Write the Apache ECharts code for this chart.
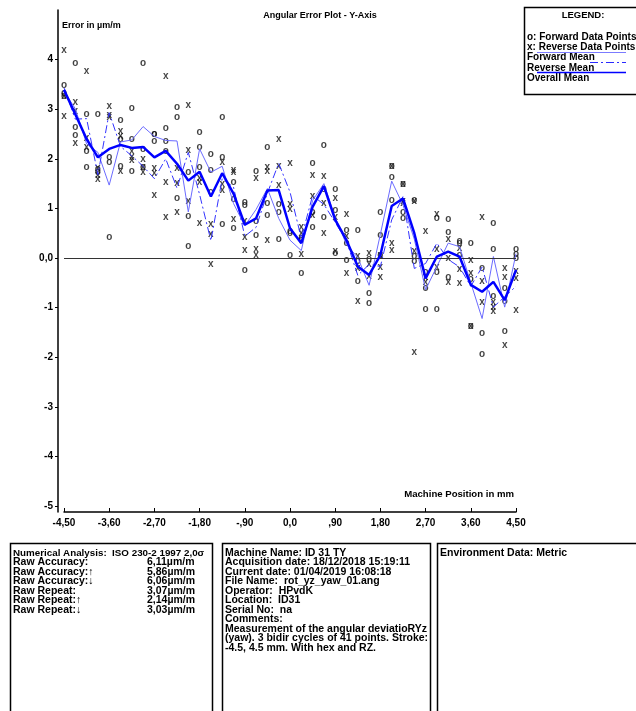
<!DOCTYPE html>
<html>
<head>
<meta charset="utf-8">
<script src="https://cdn.jsdelivr.net/npm/echarts@6/dist/echarts.min.js"></script>
<style>
html, body { margin: 0; padding: 0; background: #fff; }
#chart { width: 636px; height: 711px; }
</style>
</head>
<body>
<div id="chart"></div>
<script>
// machine positions, 41 points
var positions = [-4.5, -4.275, -4.05, -3.825, -3.6, -3.375, -3.15, -2.925, -2.7, -2.475, -2.25, -2.025, -1.8, -1.575, -1.35, -1.125, -0.9, -0.675, -0.45, -0.225, 0, 0.225, 0.45, 0.675, 0.9, 1.125, 1.35, 1.575, 1.8, 2.025, 2.25, 2.475, 2.7, 2.925, 3.15, 3.375, 3.6, 3.825, 4.05, 4.275, 4.5];

// forward runs (o)
var fwdA = [3.48, 3.92, 2.89, 2.89, 2.04, 2.78, 3.01, 3.92, 2.5, 2.61, 3.04, 1.72, 2.53, 2.09, 2.84, 1.52, 1.13, 1.74, 2.23, 1.08, 0.53, 0.4, 1.92, 2.28, 1.39, 0.55, 0.56, -0.03, 0.93, 1.86, 1.49, 1.17, -0.28, 0.8, 0.78, 0.33, 0.3, -0.21, 0.7, -0.61, 0.18];
var fwdB = [3.32, 2.63, 2.16, 1.78, 1.94, 2.4, 2.4, 2.2, 2.5, 2.35, 2.84, 0.85, 2.24, 1.77, 2.03, 1.18, 1.07, 0.75, 1.11, 0.93, 0.5, 0.35, 0.93, 1.39, 0.97, 0.3, -0.07, -0.71, 0.46, 1.63, 0.93, 0.03, -0.6, -0.28, 0.51, 0.3, -0.43, -1.52, 0.18, -0.88, 0.08];
var fwdC = [3.27, 2.47, 1.84, 1.72, 0.42, 1.85, 1.74, 1.83, 2.36, 2.16, 1.2, 0.23, 1.84, 1.32, 0.69, 0.6, -0.24, 0.46, 0.87, 0.38, 0.06, -0.31, 0.62, 0.83, 0.1, -0.05, -0.46, -0.91, 0.06, 1.17, 0.8, -0.07, -1.03, -1.03, -0.38, 0.06, -1.38, -1.94, -0.78, -1.47, 0.0];

// reverse runs (x)
var revA = [4.18, 3.15, 3.77, 1.8, 3.06, 2.55, 2.16, 1.99, 1.81, 3.67, 1.81, 3.07, 1.6, 0.69, 1.94, 1.77, 0.75, 1.61, 1.84, 2.4, 1.91, 0.62, 1.67, 1.64, 1.2, 0.89, 0.03, 0.09, 0.06, 1.86, 1.49, 1.14, 0.53, 0.89, 0.38, 0.2, -0.04, 0.82, -0.9, -0.21, -0.26];
var revB = [3.27, 2.95, 2.41, 1.66, 2.88, 2.45, 2.04, 1.83, 1.71, 1.52, 1.5, 2.18, 1.52, 0.48, 1.49, 1.72, 0.42, 0.18, 1.74, 1.86, 1.09, 0.5, 1.25, 1.11, 0.83, 0.43, -0.21, -0.12, -0.18, 0.3, 1.14, 0.13, -0.38, 0.18, 0.0, -0.23, -0.3, -0.46, -1.0, -0.38, -0.4];
var revC = [2.85, 2.31, 2.24, 1.58, 2.84, 1.74, 1.97, 1.72, 1.27, 0.82, 0.93, 1.14, 0.71, -0.13, 1.36, 0.79, 0.16, 0.06, 0.36, 1.47, 0.98, 0.08, 0.87, 0.5, 0.13, -0.31, -0.87, -0.36, -0.38, 0.16, 1.1, -1.89, -0.48, -0.18, -0.48, -0.5, -1.38, -0.9, -1.08, -1.75, -1.05];

// mean curves as drawn
var fwdMean = [3.36, 3.01, 2.3, 2.13, 1.47, 2.34, 2.38, 2.65, 2.45, 2.37, 2.36, 0.93, 2.2, 1.73, 1.85, 1.1, 0.65, 0.98, 1.4, 0.8, 0.36, 0.15, 1.16, 1.5, 0.82, 0.27, 0.01, -0.55, 0.48, 1.55, 1.07, 0.38, -0.64, -0.17, 0.3, 0.23, -0.5, -1.22, 0.03, -0.99, 0.09];
var revMean = [3.43, 2.8, 2.81, 1.68, 2.93, 2.25, 2.06, 1.85, 1.6, 2.0, 1.41, 2.13, 1.28, 0.35, 1.6, 1.43, 0.44, 0.62, 1.31, 1.91, 1.33, 0.4, 1.26, 1.08, 0.72, 0.34, -0.35, -0.13, -0.17, 0.77, 1.24, -0.21, -0.11, 0.3, -0.03, -0.18, -0.57, -0.18, -0.99, -0.78, -0.57];
var allMean = [3.39, 2.9, 2.4, 2.03, 2.2, 2.28, 2.22, 2.24, 2.03, 2.16, 1.9, 1.56, 1.74, 1.24, 1.71, 1.3, 0.67, 0.8, 1.36, 1.37, 0.6, 0.3, 1.03, 1.45, 0.77, 0.36, -0.17, -0.34, 0.06, 1.05, 1.2, 0.5, -0.41, 0.03, 0.13, 0.03, -0.54, -0.68, -0.48, -0.85, -0.24];

var xTicks = [-4.5, -3.6, -2.7, -1.8, -0.9, 0, 0.9, 1.8, 2.7, 3.6, 4.5];
var yTicks = [-5, -4, -3, -2, -1, 0, 1, 2, 3, 4];

var FONT = '"Liberation Sans", Arial, sans-serif';

function pairs(ys) {
  var out = [];
  for (var i = 0; i < positions.length; i++) {
    out.push([positions[i], ys[i]]);
  }
  return out;
}

function fmtX(v) {
  if (Math.abs(v) < 1e-9) return '0,0';
  var s = Math.abs(v).toFixed(2).replace('.', ',');
  if (s.charAt(0) === '0') s = s.slice(1);
  return (v < 0 ? '-' : '') + s;
}

function fmtY(v) {
  if (Math.abs(v) < 1e-9) return '0,0';
  return String(v);
}

function glyphSeries(ys, ch) {
  return {
    type: 'scatter',
    data: pairs(ys),
    symbol: 'circle',
    symbolSize: 1,
    silent: true,
    itemStyle: { color: 'rgba(0,0,0,0)' },
    label: {
      show: true,
      position: 'inside',
      formatter: ch,
      color: '#111',
      fontSize: 10,
      fontWeight: 'bold',
      fontFamily: FONT
    },
    z: 3
  };
}

function txt(str, x, y, align, size) {
  return {
    type: 'text',
    silent: true,
    style: {
      text: str, x: x, y: y,
      fill: '#000',
      font: 'bold ' + (size || 10.5) + 'px ' + FONT,
      textAlign: align || 'left',
      textVerticalAlign: 'middle',
      align: align || 'left',
      verticalAlign: 'middle'
    }
  };
}

function box(x, y, w, h) {
  return {
    type: 'rect', silent: true,
    shape: { x: x, y: y, width: w, height: h },
    style: { fill: 'none', stroke: '#000', lineWidth: 1.5 }
  };
}

function seg(x1, y1, x2, y2, color, width, dash) {
  return {
    type: 'line', silent: true,
    shape: { x1: x1, y1: y1, x2: x2, y2: y2 },
    style: { stroke: color, lineWidth: width, lineDash: dash || null }
  };
}

var graphics = [
  txt('Angular Error Plot - Y-Axis', 320, 16, 'center', 9),
  txt('Error in µm/m', 62, 26, 'left', 9),
  txt('Machine Position in mm', 514, 494, 'right', 9.6),

  // legend
  box(524.5, 7.5, 120, 87),
  txt('LEGEND:', 583, 15, 'center', 9.5),
  txt('o: Forward Data Points', 527, 37, 'left', 10),
  txt('x: Reverse Data Points', 527, 47, 'left', 10),
  txt('Forward Mean', 527, 57.5, 'left', 10),
  txt('Reverse Mean', 527, 68, 'left', 10),
  txt('Overall Mean', 527, 78, 'left', 10),
  seg(537, 52.5, 626, 52.5, '#7b7bff', 1),
  seg(590, 62.5, 626, 62.5, '#2a2aff', 1, [8, 3, 2, 3]),
  seg(537, 72.5, 626, 72.5, '#0000ff', 1.5),

  // bottom panels
  box(10.5, 543.5, 202, 200),
  box(222.5, 543.5, 208, 200),
  box(437.5, 543.5, 210, 200),

  txt('Numerical Analysis:  ISO 230-2 1997 2,0σ', 13, 553, 'left', 9.8),
  txt('Raw Accuracy:', 13, 562.5), txt('6,11µm/m', 147, 562.5),
  txt('Raw Accuracy:↑', 13, 572), txt('5,86µm/m', 147, 572),
  txt('Raw Accuracy:↓', 13, 581.5), txt('6,06µm/m', 147, 581.5),
  txt('Raw Repeat:', 13, 591), txt('3,07µm/m', 147, 591),
  txt('Raw Repeat:↑', 13, 600.5), txt('2,14µm/m', 147, 600.5),
  txt('Raw Repeat:↓', 13, 610), txt('3,03µm/m', 147, 610),

  txt('Machine Name: ID 31 TY', 225, 553),
  txt('Acquisition date: 18/12/2018 15:19:11', 225, 562.5),
  txt('Current date: 01/04/2019 16:08:18', 225, 572),
  txt('File Name:  rot_yz_yaw_01.ang', 225, 581.5),
  txt('Operator:  HPvdK', 225, 591),
  txt('Location:  ID31', 225, 600.5),
  txt('Serial No:  na', 225, 610),
  txt('Comments:', 225, 619.5),
  txt('Measurement of the angular deviatioRYz', 225, 629),
  txt('(yaw). 3 bidir cycles of 41 points. Stroke:', 225, 638.5),
  txt('-4.5, 4.5 mm. With hex and RZ.', 225, 648),

  txt('Environment Data: Metric', 440, 553)
];

var chart = echarts.init(document.getElementById('chart'), null, { renderer: 'canvas' });

chart.setOption({
  animation: false,
  backgroundColor: '#fff',
  grid: { left: 64, right: 120, top: 10, bottom: 199 },
  xAxis: {
    type: 'value',
    min: -4.5,
    max: 4.5,
    axisLine: { show: true, onZero: false, lineStyle: { color: '#000', width: 1.5 } },
    axisTick: { show: true, inside: true, length: 4, customValues: xTicks, lineStyle: { color: '#000' } },
    axisLabel: {
      customValues: xTicks, formatter: fmtX, margin: 6,
      color: '#000', fontSize: 10, fontWeight: 'bold', fontFamily: FONT
    },
    splitLine: { show: false }
  },
  yAxis: {
    type: 'value',
    min: -5.12,
    max: 5.0,
    offset: 6,
    axisLine: { show: true, onZero: false, lineStyle: { color: '#000', width: 1.5 } },
    axisTick: { show: true, length: 3, customValues: yTicks, lineStyle: { color: '#000' } },
    axisLabel: {
      customValues: yTicks, formatter: fmtY, margin: 5,
      color: '#000', fontSize: 10, fontWeight: 'bold', fontFamily: FONT
    },
    splitLine: { show: false }
  },
  series: [
    {
      name: 'Forward Mean',
      type: 'line',
      data: pairs(fwdMean),
      showSymbol: false,
      silent: true,
      lineStyle: { color: '#6b6bff', width: 1 },
      z: 4
    },
    {
      name: 'Reverse Mean',
      type: 'line',
      data: pairs(revMean),
      showSymbol: false,
      silent: true,
      lineStyle: { color: '#3434ff', width: 1, type: [8, 3, 2, 3] },
      z: 4
    },
    {
      name: 'Overall Mean',
      type: 'line',
      data: pairs(allMean),
      showSymbol: false,
      silent: true,
      lineStyle: { color: '#0000ff', width: 2.5 },
      markLine: {
        silent: true,
        symbol: 'none',
        label: { show: false },
        lineStyle: { color: '#333', width: 1, type: 'solid' },
        data: [{ yAxis: 0 }]
      },
      z: 5
    },
    glyphSeries(fwdA, 'o'),
    glyphSeries(fwdB, 'o'),
    glyphSeries(fwdC, 'o'),
    glyphSeries(revA, 'x'),
    glyphSeries(revB, 'x'),
    glyphSeries(revC, 'x')
  ],
  graphic: graphics
});
</script>
</body>
</html>
